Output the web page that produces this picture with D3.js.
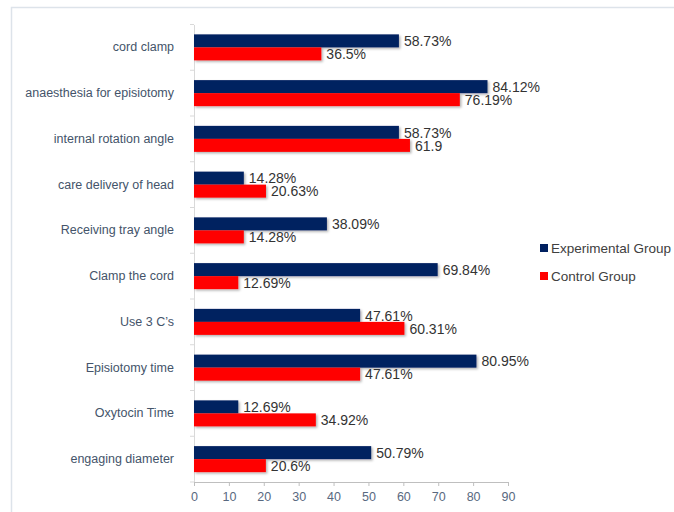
<!DOCTYPE html>
<html>
<head>
<meta charset="utf-8">
<script src="https://cdn.jsdelivr.net/npm/d3@7"></script>
<style>
	body { margin: 0; background: #fff; }
	svg { display: block; font-family: 'Liberation Sans', Arial, sans-serif; }
</style>
</head>
<body>
<div id="chart"></div>
<script>
const width = 674;
const height = 512;

// data ===============================================================
const categories = [
	'cord clamp',
	'anaesthesia for episiotomy',
	'internal rotation angle',
	'care delivery of head',
	'Receiving tray angle',
	'Clamp the cord',
	'Use 3 C\u2019s',
	'Episiotomy time',
	'Oxytocin Time',
	'engaging diameter',
];
const experimental = [58.73, 84.12, 58.73, 14.28, 38.09, 69.84, 47.61, 80.95, 12.69, 50.79];
const control = [36.5, 76.19, 61.9, 20.63, 14.28, 12.69, 60.31, 47.61, 34.92, 20.6];
const experimentalLabels = ['58.73%', '84.12%', '58.73%', '14.28%', '38.09%', '69.84%', '47.61%', '80.95%', '12.69%', '50.79%'];
const controlLabels = ['36.5%', '76.19%', '61.9', '20.63%', '14.28%', '12.69%', '60.31%', '47.61%', '34.92%', '20.6%'];
const seriesNames = ['Experimental Group', 'Control Group'];
const seriesColors = ['#002060', '#ff0000'];
const xTicks = [0, 10, 20, 30, 40, 50, 60, 70, 80, 90];

// layout ===============================================================
const margin = { top: 24.5, right: 166, bottom: 30, left: 194 };
const plotH = 482 - margin.top;

const svg = d3.select('#chart').append('svg').attr('width', width).attr('height', height);

// outer frame
svg.append('path')
	.attr('d', `M11.5,${height} V7.5 H${width}`)
	.attr('fill', 'none')
	.attr('stroke', '#dde3ea')
	.attr('stroke-width', 1.5);

// shadow filter for the bars
const defs = svg.append('defs');
const filter = defs.append('filter').attr('id', 'shadow').attr('x', '-5%').attr('y', '-20%').attr('width', '115%').attr('height', '160%');
filter.append('feDropShadow')
	.attr('dx', 1.5)
	.attr('dy', 1.5)
	.attr('stdDeviation', 1)
	.attr('flood-color', '#000')
	.attr('flood-opacity', 0.3);

const chart = svg.append('g').attr('transform', `translate(${margin.left}, ${margin.top})`);

const xScale = d3.scaleLinear().domain([0, 90]).range([0, 314]);
const yScale = d3.scaleBand().domain(categories).range([0, plotH]);
const inner = d3.scaleBand().domain(seriesNames).range([0, 26]);

// y axis
const yAxis = d3.axisLeft(yScale).tickSize(0).tickPadding(20);
const yG = chart.append('g').attr('class', 'y-axis').call(yAxis);
yG.select('.domain').attr('stroke', '#d9d9d9');
yG.selectAll('text')
	.attr('fill', '#44546a')
	.attr('font-family', "'Liberation Sans', Arial, sans-serif")
	.attr('font-size', '12.5px');

// y tick marks at band boundaries
chart.append('g')
	.selectAll('line')
	.data(d3.range(categories.length + 1))
	.join('line')
	.attr('x1', -4)
	.attr('x2', 0)
	.attr('y1', (i) => i * yScale.step())
	.attr('y2', (i) => i * yScale.step())
	.attr('stroke', '#d9d9d9');

// x axis
const xAxis = d3.axisBottom(xScale).tickValues(xTicks).tickSize(4).tickPadding(6);
const xG = chart.append('g').attr('class', 'x-axis').attr('transform', `translate(0, ${plotH})`).call(xAxis);
xG.selectAll('.domain, line').attr('stroke', '#bfbfbf');
xG.selectAll('text')
	.attr('fill', '#596980')
	.attr('font-family', "'Liberation Sans', Arial, sans-serif")
	.attr('font-size', '12.5px');

// bars
const rows = categories.map((c, i) => ({
	cat: c,
	vals: [
		{ s: seriesNames[0], v: experimental[i], label: experimentalLabels[i], color: seriesColors[0] },
		{ s: seriesNames[1], v: control[i], label: controlLabels[i], color: seriesColors[1] },
	],
}));

const groups = chart.selectAll('.grp')
	.data(rows)
	.join('g')
	.attr('class', 'grp')
	.attr('transform', (d) => `translate(0, ${yScale(d.cat) + (yScale.bandwidth() - 26) / 2})`);

groups.selectAll('rect')
	.data((d) => d.vals)
	.join('rect')
	.attr('x', 0)
	.attr('y', (d) => inner(d.s))
	.attr('width', (d) => xScale(d.v))
	.attr('height', inner.bandwidth())
	.attr('fill', (d) => d.color)
	.attr('filter', 'url(#shadow)');

groups.selectAll('text')
	.data((d) => d.vals)
	.join('text')
	.attr('x', (d) => xScale(d.v) + 5)
	.attr('y', (d) => inner(d.s) + inner.bandwidth() / 2)
	.attr('dy', '0.38em')
	.attr('fill', '#333')
	.attr('font-size', '14px')
	.text((d) => d.label);

// legend
const legend = svg.append('g').attr('transform', 'translate(540, 248)');
const items = legend.selectAll('g')
	.data(seriesNames)
	.join('g')
	.attr('transform', (d, i) => `translate(0, ${i * 28})`);
items.append('rect')
	.attr('x', 0)
	.attr('y', -4)
	.attr('width', 8)
	.attr('height', 8)
	.attr('fill', (d, i) => seriesColors[i]);
items.append('text')
	.attr('x', 11)
	.attr('y', 0)
	.attr('dy', '0.36em')
	.attr('fill', '#404040')
	.attr('font-size', '13.5px')
	.text((d) => d);
</script>
</body>
</html>
